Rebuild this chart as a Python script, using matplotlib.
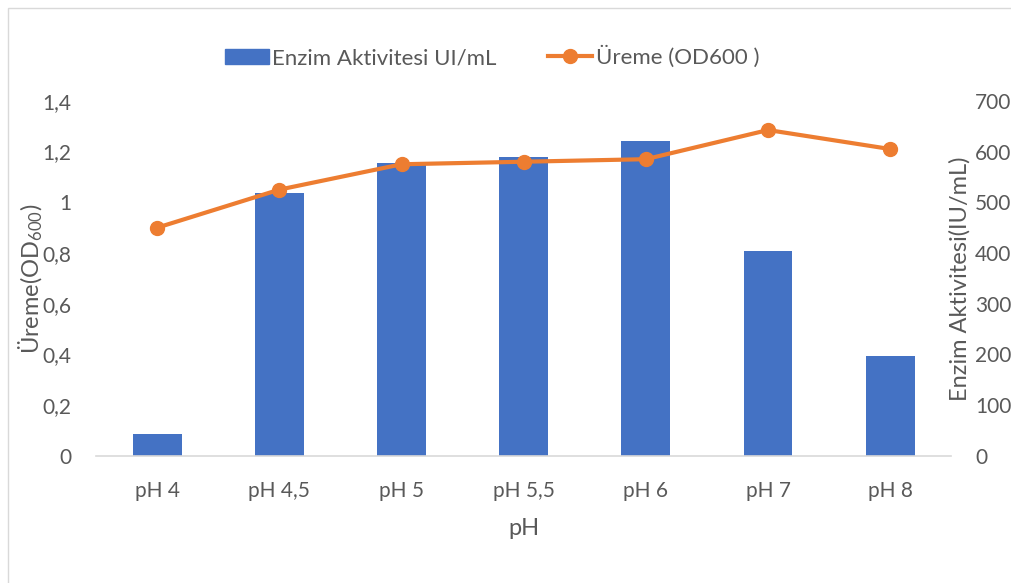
import matplotlib.pyplot as plt
import numpy as np
from matplotlib.patches import Rectangle
from matplotlib.lines import Line2D
from matplotlib.patches import Patch

plt.rcParams['font.family'] = ['Lato', 'DejaVu Sans']
plt.rcParams['mathtext.fontset'] = 'custom'
plt.rcParams['mathtext.rm'] = 'Lato'
plt.rcParams['mathtext.it'] = 'Lato'

categories = ['pH 4', 'pH 4,5', 'pH 5', 'pH 5,5', 'pH 6', 'pH 7', 'pH 8']
enzyme = [43, 518, 578, 590, 621, 404, 197]          # IU/mL, right axis
growth = [0.90, 1.05, 1.15, 1.16, 1.17, 1.285, 1.21]  # OD600, left axis

gray = '#595959'
blue = '#4472C4'
orange = '#ED7D31'

fig = plt.figure(figsize=(10.12, 5.83), dpi=100)
fig.patches.append(Rectangle((8 / 1012, -0.1), 1.2, 1 - 8 / 583 + 0.1,
                             transform=fig.transFigure, fill=False,
                             edgecolor='#D9D9D9', linewidth=1))

ax = fig.add_axes([0.095, 0.218, 0.845, 0.609])
ax2 = ax.twinx()

x = np.arange(len(categories))
ax2.bar(x, enzyme, width=0.4, color=blue, zorder=1)
ax2.set_ylim(0, 700)
ax2.set_yticks(range(0, 701, 100))

ax.set_zorder(ax2.get_zorder() + 1)
ax.patch.set_visible(False)
ax.plot(x, growth, color=orange, linewidth=3, marker='o', markersize=10, zorder=3)
ax.set_ylim(0, 1.4)
ax.set_yticks(np.arange(0, 1.41, 0.2))
ax.set_yticklabels(['0', '0,2', '0,4', '0,6', '0,8', '1', '1,2', '1,4'])
ax.set_xlim(-0.5, len(categories) - 0.5)
ax.set_xticks(x)
ax.set_xticklabels(categories)

for a in (ax, ax2):
    for s in ('top', 'left', 'right'):
        a.spines[s].set_visible(False)
    a.spines['bottom'].set_color('#D9D9D9')
    a.spines['bottom'].set_linewidth(1.2)
    a.tick_params(length=0, labelsize=15, colors=gray)
ax2.spines['bottom'].set_visible(False)
ax.tick_params(axis='x', pad=18)
ax.tick_params(axis='y', pad=18)
ax2.tick_params(axis='y', pad=17)

ax.set_xlabel('pH', fontsize=17, color=gray)
ax.xaxis.set_label_coords(0.5, -0.175)
ax.set_ylabel('Üreme(OD$_{600}$)', fontsize=17, color=gray)
ax.yaxis.set_label_coords(-0.06, 0.5)
ax2.set_ylabel('Enzim Aktivitesi(IU/mL)', fontsize=17, color=gray)
ax2.yaxis.set_label_coords(0.997, 0.5)

handles = [Patch(color=blue),
           Line2D([0], [0], color=orange, linewidth=3, marker='o', markersize=10)]
fig.legend(handles, ['Enzim Aktivitesi UI/mL', 'Üreme (OD600 )'],
           loc='center', bbox_to_anchor=(0.486, 1 - 57 / 583), ncol=2,
           frameon=False, fontsize=16, labelcolor=gray,
           handlelength=2, columnspacing=2.3, handletextpad=0.15)

fig.savefig('out.png', dpi=100)
